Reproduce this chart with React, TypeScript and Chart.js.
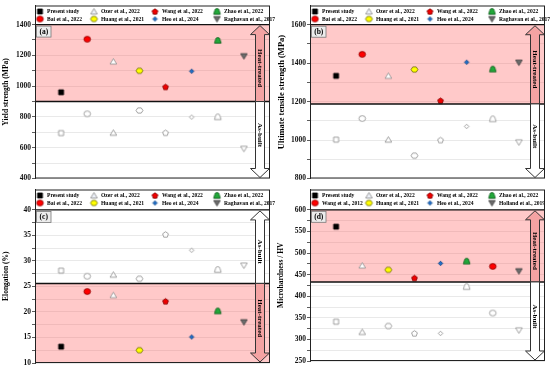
import React, { useEffect, useRef } from "react";
import { Chart, registerables } from "chart.js";
Chart.register(...registerables);

const FONT = "'Liberation Serif', 'Times New Roman', Times, serif";

// ---------------- data ----------------
const xSlots = [1, 2, 3, 4, 5, 6, 7, 8];

const studiesMech = [
  "Present study", "Bai et al., 2022", "Ozer et al., 2022", "Huang et al., 2021",
  "Wang et al., 2022", "Heo et al., 2024", "Zhao et al., 2022", "Raghavan et al., 2017",
];
const shapesMech = ["square", "circle", "triangle", "hexagon", "pentagon", "diamond", "bell", "downTriangle"];
const fillsMech = ["#000000", "#ff0000", "#ffffff", "#ffff00", "#ee0000", "#1f6fc8", "#22a83a", "#6e6e6e"];
const strokesMech = ["#000000", "#8a0000", "#8c8c8c", "#6b6b00", "#800000", "#0b3c7a", "#0d5a1a", "#3a3a3a"];
const legendOrderMech = [0, 1, 2, 3, 4, 5, 6, 7];

const studiesHV = [
  "Present study", "Ozer et al., 2022", "Huang et al., 2021", "Wang et al., 2022",
  "Heo et al., 2024", "Zhao et al., 2022", "Wang et al., 2012", "Holland et al., 2019",
];
const shapesHV = ["square", "triangle", "hexagon", "pentagon", "diamond", "bell", "circle", "downTriangle"];
const fillsHV = ["#000000", "#ffffff", "#ffff00", "#ee0000", "#1f6fc8", "#22a83a", "#ff0000", "#6e6e6e"];
const strokesHV = ["#000000", "#8c8c8c", "#6b6b00", "#800000", "#0b3c7a", "#0d5a1a", "#8a0000", "#3a3a3a"];
const legendOrderHV = [0, 6, 1, 2, 3, 4, 5, 7];

const yieldHeatTreated = [960, 1305, 1160, 1100, 995, 1097, 1297, 1195];
const yieldAsBuilt = [695, 820, 697, 842, 697, 799, 800, 593];
const yieldTicks = [400, 500, 600, 700, 800, 900, 1000, 1100, 1200, 1300, 1400];

const utsHeatTreated = [1334, 1446, 1334, 1367, 1205, 1405, 1369, 1403];
const utsAsBuilt = [1002, 1112, 1002, 919, 1000, 1071, 1110, 988];
const utsTicks = [800, 900, 1000, 1100, 1200, 1300, 1400, 1500, 1600];

const elongHeatTreated = [13.2, 24.0, 23.3, 12.5, 22.1, 15.1, 20.2, 18.0];
const elongAsBuilt = [28.1, 27.0, 27.3, 26.5, 35.2, 32.1, 28.3, 29.1];
const elongTicks = [10, 12.5, 15, 17.5, 20, 22.5, 25, 27.5, 30, 32.5, 35, 37.5, 40];

const hvHeatTreated = [561, 471, 461, 442, 476, 481, 469, 458];
const hvAsBuilt = [341, 317, 331, 314, 314, 422, 361, 321];
const hvTicks = [250, 275, 300, 325, 350, 375, 400, 425, 450, 475, 500, 525, 550, 575, 600];

// ---------------- markers ----------------
const SIZE: Record<string, number> = {
  square: 5, circle: 6, triangle: 6, hexagon: 6, pentagon: 5.5, diamond: 4.5, bell: 6, downTriangle: 6,
};

function shapePath(ctx: CanvasRenderingContext2D, shape: string, cx: number, cy: number, s: number) {
  ctx.beginPath();
  const poly = (pts: number[][]) => {
    ctx.moveTo(pts[0][0], pts[0][1]);
    for (let i = 1; i < pts.length; i++) ctx.lineTo(pts[i][0], pts[i][1]);
    ctx.closePath();
  };
  switch (shape) {
    case "square":
      ctx.rect(cx - s / 2, cy - s / 2, s, s);
      break;
    case "circle":
      ctx.ellipse(cx, cy, s * 0.55, s * 0.48, 0, 0, Math.PI * 2);
      break;
    case "triangle":
      poly([[cx, cy - s * 0.5], [cx + s * 0.55, cy + s * 0.42], [cx - s * 0.55, cy + s * 0.42]]);
      break;
    case "downTriangle":
      poly([[cx, cy + s * 0.5], [cx + s * 0.55, cy - s * 0.42], [cx - s * 0.55, cy - s * 0.42]]);
      break;
    case "pentagon": {
      const pts: number[][] = [];
      for (let k = 0; k < 5; k++) {
        const a = -Math.PI / 2 + (k * 2 * Math.PI) / 5;
        pts.push([cx + Math.cos(a) * s * 0.55, cy + Math.sin(a) * s * 0.55 + s * 0.05]);
      }
      poly(pts);
      break;
    }
    case "hexagon": {
      const pts: number[][] = [];
      for (let k = 0; k < 6; k++) {
        const a = (k * 2 * Math.PI) / 6;
        pts.push([cx + Math.cos(a) * s * 0.58, cy + Math.sin(a) * s * 0.5]);
      }
      poly(pts);
      break;
    }
    case "diamond":
      poly([[cx, cy - s * 0.5], [cx + s * 0.5, cy], [cx, cy + s * 0.5], [cx - s * 0.5, cy]]);
      break;
    case "bell":
      ctx.moveTo(cx - s * 0.55, cy + s * 0.45);
      ctx.lineTo(cx - s * 0.38, cy - s * 0.15);
      ctx.quadraticCurveTo(cx - s * 0.32, cy - s * 0.5, cx, cy - s * 0.5);
      ctx.quadraticCurveTo(cx + s * 0.32, cy - s * 0.5, cx + s * 0.38, cy - s * 0.15);
      ctx.lineTo(cx + s * 0.55, cy + s * 0.45);
      ctx.closePath();
      break;
  }
}

function makeMarker(shape: string, s: number, fill: string, stroke: string, lw: number) {
  const size = Math.ceil(s + lw * 2 + 2) | 1;
  const c = document.createElement("canvas");
  c.width = size;
  c.height = size;
  const ctx = c.getContext("2d")!;
  shapePath(ctx, shape, size / 2, size / 2, s);
  ctx.fillStyle = fill;
  ctx.fill();
  ctx.lineWidth = lw;
  ctx.strokeStyle = stroke;
  ctx.stroke();
  return c;
}

// ---------------- panel ----------------
type PanelCfg = {
  left: number; top: number; w: number; h: number;
  padTop: number; padBottom: number; padRight: number;
  yMin: number; yMax: number; ticks: number[]; labelStep: number;
  yTitle: string; titleSize: number;
  ht: number[]; ab: number[];
  studies: string[]; shapes: string[]; fills: string[]; strokes: string[]; legendOrder: number[];
  topLine: number; split: number; htTop: boolean; tag: string;
};

function drawArrow(ctx: CanvasRenderingContext2D, cx: number, yBase: number, yTip: number, fill: string, stroke: string) {
  const hw = 9.5, sw = 4.5, hh = 9;
  const dir = yTip < yBase ? 1 : -1;
  const yHead = yTip + dir * hh;
  ctx.beginPath();
  ctx.moveTo(cx - sw, yBase);
  ctx.lineTo(cx - sw, yHead);
  ctx.lineTo(cx - hw, yHead);
  ctx.lineTo(cx, yTip);
  ctx.lineTo(cx + hw, yHead);
  ctx.lineTo(cx + sw, yHead);
  ctx.lineTo(cx + sw, yBase);
  ctx.closePath();
  ctx.fillStyle = fill;
  ctx.fill();
  ctx.lineWidth = 1;
  ctx.strokeStyle = stroke;
  ctx.stroke();
  return (yHead + yBase) / 2;
}

function vText(ctx: CanvasRenderingContext2D, text: string, x: number, y: number) {
  ctx.save();
  ctx.translate(x, y);
  ctx.rotate(Math.PI / 2);
  ctx.textAlign = "center";
  ctx.textBaseline = "middle";
  ctx.fillStyle = "#000";
  ctx.font = `bold 7px ${FONT}`;
  ctx.fillText(text, 0, 0);
  ctx.restore();
}

function Panel({ cfg }: { cfg: PanelCfg }) {
  const ref = useRef<HTMLCanvasElement | null>(null);
  useEffect(() => {
    const canvas = ref.current!;
    const htM = cfg.shapes.map((s, i) => makeMarker(s, SIZE[s], cfg.fills[i], cfg.strokes[i], 0.8));
    const abM = cfg.shapes.map((s) => makeMarker(s, SIZE[s], "#ffffff", "#8c8c8c", 0.8));
    const lgM = cfg.shapes.map((s, i) =>
      makeMarker(s, SIZE[s], s === "triangle" ? "#eef2fa" : cfg.fills[i], cfg.strokes[i], 0.8)
    );
    const datasets = cfg.studies.map((name, i) => ({
      label: name,
      data: [{ x: xSlots[i], y: cfg.ht[i] }, { x: xSlots[i], y: cfg.ab[i] }],
      pointStyle: [htM[i], abM[i]],
      pointRadius: 3,
      showLine: false,
    }));

    const deco = {
      id: "deco",
      beforeDatasetsDraw(chart: any) {
        const { ctx, chartArea: a, scales } = chart;
        const y = scales.y;
        const yTop = y.getPixelForValue(cfg.topLine);
        const ySplit = y.getPixelForValue(cfg.split);
        ctx.save();
        ctx.fillStyle = "rgba(255, 90, 90, 0.33)";
        if (cfg.htTop) ctx.fillRect(a.left, yTop, a.right - a.left, ySplit - yTop);
        else ctx.fillRect(a.left, ySplit, a.right - a.left, a.bottom - ySplit);
        ctx.restore();
      },
      afterDatasetsDraw(chart: any) {
        const { ctx, chartArea: a, scales } = chart;
        const y = scales.y;
        const yTop = y.getPixelForValue(cfg.topLine);
        const ySplit = y.getPixelForValue(cfg.split);
        ctx.save();
        ctx.strokeStyle = "#111";
        ctx.lineWidth = 1.2;
        ctx.beginPath();
        ctx.moveTo(a.left, yTop);
        ctx.lineTo(a.right, yTop);
        ctx.stroke();
        ctx.lineWidth = 1.5;
        ctx.beginPath();
        ctx.moveTo(a.left, ySplit);
        ctx.lineTo(a.right, ySplit);
        ctx.stroke();

        const cx = a.right - 10;
        const htFill = "#f4a3a3";
        const abFill = "#ffffff";
        if (cfg.htTop) {
          const m1 = drawArrow(ctx, cx, ySplit, yTop + 1, htFill, "#333");
          vText(ctx, "Heat-treated", cx, m1);
          const m2 = drawArrow(ctx, cx, ySplit, a.bottom - 1, abFill, "#333");
          vText(ctx, "As-built", cx, m2);
        } else {
          const m1 = drawArrow(ctx, cx, ySplit, yTop + 1, abFill, "#333");
          vText(ctx, "As-built", cx, m1);
          const m2 = drawArrow(ctx, cx, ySplit, a.bottom - 1, htFill, "#333");
          vText(ctx, "Heat-treated", cx, m2);
        }

        ctx.fillStyle = "#ececec";
        ctx.strokeStyle = "#777";
        ctx.lineWidth = 0.8;
        ctx.fillRect(a.left + 1.5, yTop + 1.5, 14.5, 11);
        ctx.strokeRect(a.left + 1.5, yTop + 1.5, 14.5, 11);
        ctx.fillStyle = "#000";
        ctx.font = `bold 7.5px ${FONT}`;
        ctx.textAlign = "center";
        ctx.textBaseline = "middle";
        ctx.fillText(cfg.tag, a.left + 8.75, yTop + 7.3);

        const colX = [5, 59, 120, 182];
        const rowY = [6, 13.5];
        ctx.font = `bold 5.6px ${FONT}`;
        ctx.textAlign = "left";
        ctx.textBaseline = "middle";
        cfg.legendOrder.forEach((si, slot) => {
          const col = Math.floor(slot / 2);
          const row = slot % 2;
          const mx = a.left + colX[col];
          const my = a.top + rowY[row];
          const m = lgM[si];
          ctx.drawImage(m, mx - m.width / 2, my - m.height / 2);
          ctx.fillStyle = "#000";
          ctx.fillText(cfg.studies[si], mx + 7, my + 0.3);
        });

        ctx.strokeStyle = "#222";
        ctx.lineWidth = 1;
        ctx.strokeRect(a.left + 0.5, a.top + 0.5, a.right - a.left - 1, a.bottom - a.top - 1);
        ctx.restore();
      },
    };

    const chart = new Chart(canvas, {
      type: "scatter",
      data: { datasets } as any,
      options: {
        animation: false,
        responsive: false,
        devicePixelRatio: 1,
        layout: { padding: { top: cfg.padTop, bottom: cfg.padBottom, left: 0, right: cfg.padRight } },
        plugins: { legend: { display: false }, tooltip: { enabled: false } },
        scales: {
          x: { type: "linear", display: false, min: 0, max: 9 },
          y: {
            type: "linear",
            min: cfg.yMin,
            max: cfg.yMax,
            afterBuildTicks: (s: any) => {
              s.ticks = cfg.ticks.map((v) => ({ value: v }));
            },
            afterFit: (s: any) => {
              s.width = 35;
            },
            ticks: {
              autoSkip: false,
              padding: 1,
              color: "#111",
              font: { family: FONT, size: 7.5, weight: "bold" },
              callback: (v: any) => (Math.abs(Number(v) % cfg.labelStep) < 1e-9 ? String(v) : ""),
            },
            grid: { color: "#e3e3e3", tickColor: "#333", tickLength: 3, lineWidth: 0.8 },
            border: { color: "#222" },
            title: {
              display: true,
              text: cfg.yTitle,
              color: "#000",
              font: { family: FONT, size: cfg.titleSize, weight: "bold" },
              padding: { top: 2, bottom: 0 },
            },
          },
        },
      } as any,
      plugins: [deco],
    });
    return () => chart.destroy();
  }, []);
  return (
    <canvas
      ref={ref}
      width={cfg.w}
      height={cfg.h}
      style={{ position: "absolute", left: cfg.left, top: cfg.top, width: cfg.w, height: cfg.h }}
    />
  );
}

const mechCommon = {
  studies: studiesMech, shapes: shapesMech, fills: fillsMech, strokes: strokesMech, legendOrder: legendOrderMech,
};

const panels: PanelCfg[] = [
  {
    left: 0, top: 0, w: 275, h: 184, padTop: 5, padBottom: 4, padRight: 1,
    yMin: 400, yMax: 1524, ticks: yieldTicks, labelStep: 200,
    yTitle: "Yield strength (MPa)", titleSize: 7.5,
    ht: yieldHeatTreated, ab: yieldAsBuilt, ...mechCommon,
    topLine: 1400, split: 900, htTop: true, tag: "(a)",
  },
  {
    left: 275, top: 0, w: 275, h: 184, padTop: 5, padBottom: 5, padRight: 1,
    yMin: 800, yMax: 1700, ticks: utsTicks, labelStep: 200,
    yTitle: "Ultimate tensile strength (MPa)", titleSize: 8.5,
    ht: utsHeatTreated, ab: utsAsBuilt, ...mechCommon,
    topLine: 1600, split: 1188, htTop: true, tag: "(b)",
  },
  {
    left: 0, top: 184, w: 275, h: 185, padTop: 5, padBottom: 6, padRight: 1,
    yMin: 10, yMax: 44, ticks: elongTicks, labelStep: 5,
    yTitle: "Elongation (%)", titleSize: 7.5,
    ht: elongHeatTreated, ab: elongAsBuilt, ...mechCommon,
    topLine: 40, split: 25.6, htTop: false, tag: "(c)",
  },
  {
    left: 275, top: 184, w: 275, h: 185, padTop: 5, padBottom: 8, padRight: 1,
    yMin: 250, yMax: 647, ticks: hvTicks, labelStep: 50,
    yTitle: "Microhardness / HV", titleSize: 7.5,
    ht: hvHeatTreated, ab: hvAsBuilt,
    studies: studiesHV, shapes: shapesHV, fills: fillsHV, strokes: strokesHV, legendOrder: legendOrderHV,
    topLine: 600, split: 433, htTop: true, tag: "(d)",
  },
];

export default function App() {
  return (
    <div style={{ position: "fixed", left: 0, top: 0, width: 550, height: 369, background: "#ffffff" }}>
      {panels.map((p) => (
        <Panel key={p.tag} cfg={p} />
      ))}
    </div>
  );
}
